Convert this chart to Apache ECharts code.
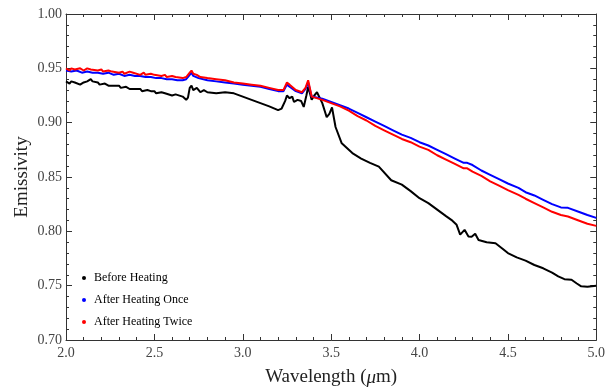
<!DOCTYPE html>
<html>
<head>
<meta charset="utf-8">
<script src="https://cdn.jsdelivr.net/npm/echarts@6/dist/echarts.min.js"></script>
<style>
	html, body { margin: 0; padding: 0; background: #fff; }
	#chart { width: 608px; height: 392px; }
</style>
</head>
<body>
<div id="chart"></div>
<script>
const seriesNames = ['Before Heating', 'After Heating Once', 'After Heating Twice']

// wavelength (um), emissivity
const beforeHeating = [
	[2.00, 0.938], [2.02, 0.936], [2.03, 0.938], [2.05, 0.937], [2.08, 0.935], [2.10, 0.937],
	[2.12, 0.938], [2.14, 0.940], [2.15, 0.938], [2.18, 0.937], [2.19, 0.935], [2.22, 0.936],
	[2.24, 0.934], [2.25, 0.935], [2.28, 0.934], [2.30, 0.934], [2.31, 0.932], [2.34, 0.933],
	[2.36, 0.931], [2.37, 0.932], [2.40, 0.931], [2.42, 0.931], [2.43, 0.929], [2.46, 0.930],
	[2.48, 0.929], [2.50, 0.929], [2.51, 0.927], [2.54, 0.928], [2.56, 0.927], [2.57, 0.927],
	[2.60, 0.925], [2.62, 0.926], [2.63, 0.925], [2.66, 0.924], [2.68, 0.921], [2.69, 0.923],
	[2.70, 0.932], [2.71, 0.934], [2.72, 0.930], [2.74, 0.932], [2.76, 0.928], [2.78, 0.930],
	[2.80, 0.928], [2.85, 0.927], [2.90, 0.928], [2.95, 0.927], [3.00, 0.924], [3.05, 0.921],
	[3.10, 0.918], [3.15, 0.915], [3.20, 0.9115], [3.22, 0.913], [3.24, 0.920], [3.25, 0.925],
	[3.265, 0.9225], [3.28, 0.924], [3.29, 0.919], [3.31, 0.921], [3.33, 0.920], [3.345, 0.9145],
	[3.36, 0.925], [3.37, 0.933], [3.39, 0.921], [3.405, 0.925], [3.42, 0.928], [3.45, 0.918],
	[3.475, 0.905], [3.49, 0.908], [3.505, 0.914], [3.515, 0.905], [3.525, 0.896], [3.56, 0.881],
	[3.60, 0.875], [3.62, 0.872], [3.67, 0.867], [3.72, 0.863], [3.77, 0.8595], [3.84, 0.847],
	[3.90, 0.843], [3.95, 0.837], [4.00, 0.8305], [4.05, 0.826], [4.10, 0.820], [4.15, 0.814],
	[4.18, 0.8106], [4.21, 0.806], [4.23, 0.797], [4.255, 0.8014], [4.277, 0.7953], [4.295, 0.795],
	[4.315, 0.7977], [4.334, 0.792], [4.38, 0.790], [4.43, 0.789], [4.47, 0.784], [4.50, 0.780],
	[4.55, 0.776], [4.60, 0.773], [4.65, 0.769], [4.70, 0.766], [4.75, 0.762], [4.785, 0.7585],
	[4.82, 0.756], [4.86, 0.7555], [4.89, 0.752], [4.915, 0.7494], [4.95, 0.749], [5.00, 0.750]
]

const afterOnce = [
	[2.00, 0.948], [2.03, 0.947], [2.06, 0.948], [2.09, 0.946], [2.12, 0.947], [2.15, 0.946],
	[2.18, 0.946], [2.21, 0.945], [2.24, 0.946], [2.27, 0.944], [2.30, 0.945], [2.33, 0.943],
	[2.36, 0.944], [2.39, 0.943], [2.42, 0.943], [2.45, 0.942], [2.48, 0.942], [2.51, 0.941],
	[2.54, 0.941], [2.57, 0.940], [2.60, 0.940], [2.63, 0.939], [2.66, 0.939], [2.68, 0.940],
	[2.70, 0.944], [2.71, 0.946], [2.72, 0.943], [2.75, 0.941], [2.80, 0.939], [2.85, 0.938],
	[2.90, 0.937], [2.95, 0.936], [3.00, 0.935], [3.05, 0.934], [3.10, 0.933], [3.15, 0.931],
	[3.20, 0.929], [3.23, 0.929], [3.25, 0.935], [3.265, 0.933], [3.276, 0.934], [3.30, 0.929],
	[3.335, 0.927], [3.355, 0.931], [3.37, 0.937], [3.39, 0.924], [3.45, 0.922], [3.50, 0.919],
	[3.55, 0.916], [3.60, 0.913], [3.65, 0.909], [3.70, 0.905], [3.75, 0.901], [3.80, 0.897],
	[3.85, 0.893], [3.90, 0.889], [3.95, 0.886], [4.00, 0.882], [4.05, 0.879], [4.10, 0.875],
	[4.15, 0.871], [4.20, 0.867], [4.25, 0.863], [4.27, 0.863], [4.30, 0.861], [4.35, 0.856],
	[4.40, 0.852], [4.45, 0.848], [4.50, 0.844], [4.56, 0.840], [4.60, 0.836], [4.65, 0.833],
	[4.70, 0.829], [4.75, 0.825], [4.80, 0.822], [4.84, 0.8216], [4.90, 0.818], [4.95, 0.815],
	[5.00, 0.8124]
]

const afterTwice = [
	[2.00, 0.950], [2.02, 0.948], [2.03, 0.950], [2.05, 0.949], [2.08, 0.950], [2.10, 0.948],
	[2.12, 0.950], [2.14, 0.949], [2.15, 0.950], [2.18, 0.948], [2.20, 0.949], [2.21, 0.947],
	[2.24, 0.948], [2.26, 0.947], [2.27, 0.948], [2.30, 0.946], [2.32, 0.947], [2.33, 0.945],
	[2.36, 0.947], [2.38, 0.946], [2.39, 0.946], [2.42, 0.944], [2.44, 0.946], [2.45, 0.944],
	[2.48, 0.945], [2.50, 0.944], [2.51, 0.945], [2.54, 0.943], [2.56, 0.944], [2.57, 0.942],
	[2.60, 0.943], [2.62, 0.942], [2.63, 0.943], [2.66, 0.941], [2.68, 0.942], [2.70, 0.946],
	[2.71, 0.948], [2.72, 0.945], [2.74, 0.944], [2.76, 0.942], [2.80, 0.941], [2.85, 0.940],
	[2.90, 0.939], [2.95, 0.937], [3.00, 0.936], [3.05, 0.935], [3.10, 0.934], [3.15, 0.932],
	[3.20, 0.930], [3.23, 0.930], [3.25, 0.937], [3.265, 0.935], [3.276, 0.936], [3.30, 0.930],
	[3.335, 0.928], [3.355, 0.932], [3.37, 0.939], [3.39, 0.924], [3.45, 0.921], [3.50, 0.918],
	[3.55, 0.915], [3.60, 0.911], [3.65, 0.906], [3.70, 0.902], [3.75, 0.897], [3.80, 0.893],
	[3.85, 0.889], [3.90, 0.885], [3.95, 0.882], [4.00, 0.878], [4.05, 0.875], [4.10, 0.870],
	[4.15, 0.866], [4.20, 0.862], [4.25, 0.858], [4.27, 0.858], [4.30, 0.855], [4.35, 0.851],
	[4.40, 0.846], [4.45, 0.842], [4.50, 0.838], [4.56, 0.8335], [4.60, 0.830], [4.65, 0.826],
	[4.70, 0.822], [4.75, 0.818], [4.80, 0.815], [4.84, 0.8136], [4.90, 0.810], [4.95, 0.807],
	[5.00, 0.805]
]

const colors = ['#000000', '#0000ff', '#ff0000']
const font = '"Liberation Serif", "DejaVu Serif", serif'
const frameColor = '#333'
const labelColor = '#444'

const node = document.getElementById('chart')
const myChart = echarts.init(node)

const tickStyle = {
	axisLine: { show: true, lineStyle: { color: frameColor, width: 1 } },
	axisTick: { show: true, inside: true, length: 6, lineStyle: { color: frameColor } },
	minorTick: { show: true, splitNumber: 5, length: 3, lineStyle: { color: frameColor } },
	splitLine: { show: false }
}

const option = {
	animation: false,
	color: colors,
	grid: { left: 66, right: 10, top: 14, bottom: 52, containLabel: false },
	legend: {
		data: seriesNames,
		orient: 'vertical',
		left: 77,
		top: 266,
		icon: 'circle',
		itemWidth: 10,
		itemHeight: 4,
		itemGap: 8,
		textStyle: { fontFamily: font, fontSize: 12, color: '#000', lineHeight: 14 }
	},
	xAxis: [
		{
			type: 'value',
			min: 2,
			max: 5,
			interval: 0.5,
			...tickStyle,
			axisLabel: {
				fontFamily: font, fontSize: 14, color: labelColor, margin: 6,
				formatter: v => v.toFixed(1)
			},
			name: '{n|Wavelength (}{i|μ}{n|m)}',
			nameLocation: 'middle',
			nameGap: 28,
			nameMoveOverlap: false,
			nameTextStyle: {
				rich: {
					n: { fontFamily: font, fontSize: 19, color: '#222' },
					i: { fontFamily: font, fontSize: 19, color: '#222', fontStyle: 'italic' }
				}
			}
		},
		{
			type: 'value',
			position: 'top',
			min: 2,
			max: 5,
			interval: 0.5,
			...tickStyle,
			axisLabel: { show: false }
		}
	],
	yAxis: [
		{
			type: 'value',
			min: 0.7,
			max: 1.0,
			interval: 0.05,
			...tickStyle,
			axisLabel: {
				fontFamily: font, fontSize: 14, color: labelColor, margin: 4,
				formatter: v => v.toFixed(2)
			},
			name: 'Emissivity',
			nameLocation: 'middle',
			nameGap: 34,
			nameMoveOverlap: false,
			nameTextStyle: { fontFamily: font, fontSize: 19, color: '#222' }
		},
		{
			type: 'value',
			position: 'right',
			min: 0.7,
			max: 1.0,
			interval: 0.05,
			...tickStyle,
			axisLabel: { show: false }
		}
	],
	series: [
		{ name: seriesNames[0], type: 'line', data: beforeHeating, showSymbol: false, lineStyle: { width: 2 }, z: 3 },
		{ name: seriesNames[1], type: 'line', data: afterOnce, showSymbol: false, lineStyle: { width: 2 }, z: 4 },
		{ name: seriesNames[2], type: 'line', data: afterTwice, showSymbol: false, lineStyle: { width: 2 }, z: 5 }
	]
}

myChart.setOption(option)
</script>
</body>
</html>
